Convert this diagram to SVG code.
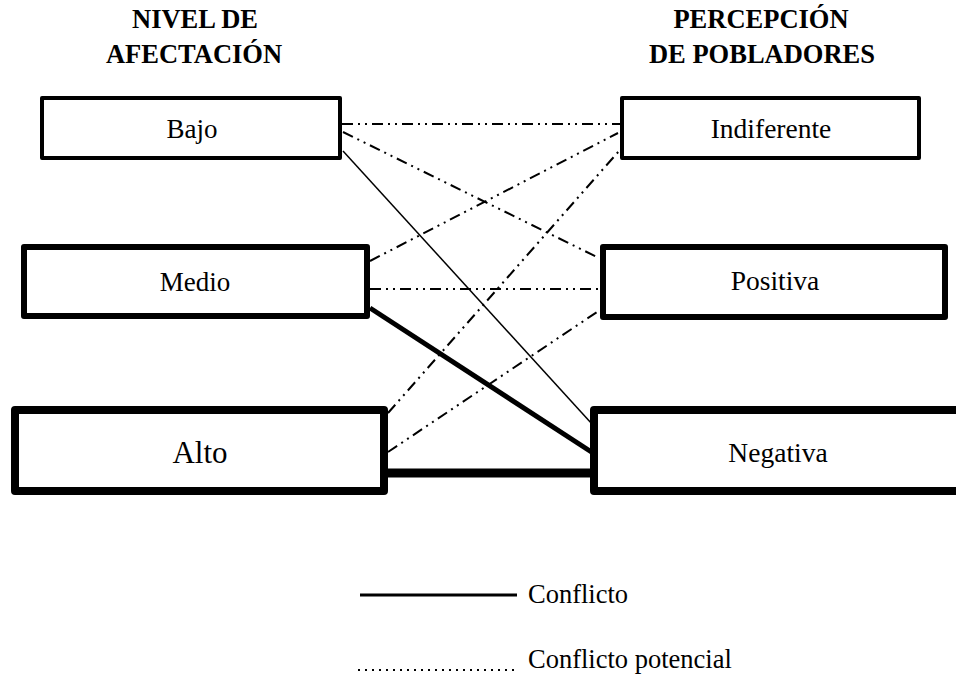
<svg xmlns="http://www.w3.org/2000/svg" width="956" height="677" viewBox="0 0 956 677">
<style>
.box{fill:#fff;stroke:#000;stroke-linejoin:round}
.lbl{font-family:"Liberation Serif","DejaVu Serif","Times New Roman",serif;fill:#000;text-anchor:middle}
.hdr{font-family:"Liberation Serif","DejaVu Serif","Times New Roman",serif;font-weight:bold;font-size:26.5px;fill:#000;text-anchor:middle}
.pot{stroke:#000;stroke-width:2;fill:none;stroke-dasharray:11 5 2 5 2 5}
.sol{stroke:#000;fill:none}
</style>
<rect width="956" height="677" fill="#fff"/>
<g id="headers">
<text class="hdr" x="195" y="28">NIVEL DE</text>
<text class="hdr" x="194" y="63">AFECTACIÓN</text>
<text class="hdr" x="761" y="28">PERCEPCIÓN</text>
<text class="hdr" x="762" y="63">DE POBLADORES</text>
</g>
<g id="connectors">
<line class="pot" x1="342" y1="124" x2="620" y2="124"/>
<line class="pot" x1="343" y1="132" x2="599" y2="258"/>
<line class="sol" stroke-width="1.5" x1="343" y1="151" x2="592" y2="424"/>
<line class="pot" x1="370" y1="261" x2="618" y2="133"/>
<line class="pot" x1="370" y1="289" x2="601" y2="289"/>
<line class="sol" stroke-width="5" x1="370" y1="308" x2="593" y2="453"/>
<line class="pot" x1="388" y1="413" x2="619" y2="151"/>
<line class="pot" x1="388" y1="452" x2="600" y2="310"/>
<line class="sol" stroke-width="9" x1="386" y1="473" x2="594" y2="473"/>
</g>
<g id="bajo">
<rect class="box" x="42" y="98" width="298" height="60" stroke-width="4"/>
<text class="lbl" x="192" y="138" font-size="27">Bajo</text>
</g>
<g id="medio">
<rect class="box" x="24" y="247" width="343" height="69" stroke-width="6"/>
<text class="lbl" x="195" y="291" font-size="27">Medio</text>
</g>
<g id="alto">
<rect class="box" x="15" y="410" width="369" height="81" stroke-width="8"/>
<text class="lbl" x="200" y="463" font-size="31">Alto</text>
</g>
<g id="indiferente">
<rect class="box" x="622" y="98" width="297" height="60" stroke-width="4"/>
<text class="lbl" x="771" y="138" font-size="27.5">Indiferente</text>
</g>
<g id="positiva">
<rect class="box" x="603" y="247" width="342" height="70" stroke-width="6"/>
<text class="lbl" x="775" y="290" font-size="27.5">Positiva</text>
</g>
<g id="negativa">
<rect class="box" x="594" y="410" width="370" height="81" stroke-width="8"/>
<text class="lbl" x="778" y="462" font-size="27.5">Negativa</text>
</g>
<g id="legend">
<line class="sol" stroke-width="3" x1="360" y1="595" x2="517" y2="595"/>
<text class="lbl" x="528" y="603" font-size="26.5" style="text-anchor:start">Conflicto</text>
<line stroke="#000" stroke-width="2" stroke-dasharray="2 5" x1="358" y1="670" x2="514" y2="670"/>
<text class="lbl" x="528" y="668" font-size="26.5" style="text-anchor:start">Conflicto potencial</text>
</g>
</svg>
